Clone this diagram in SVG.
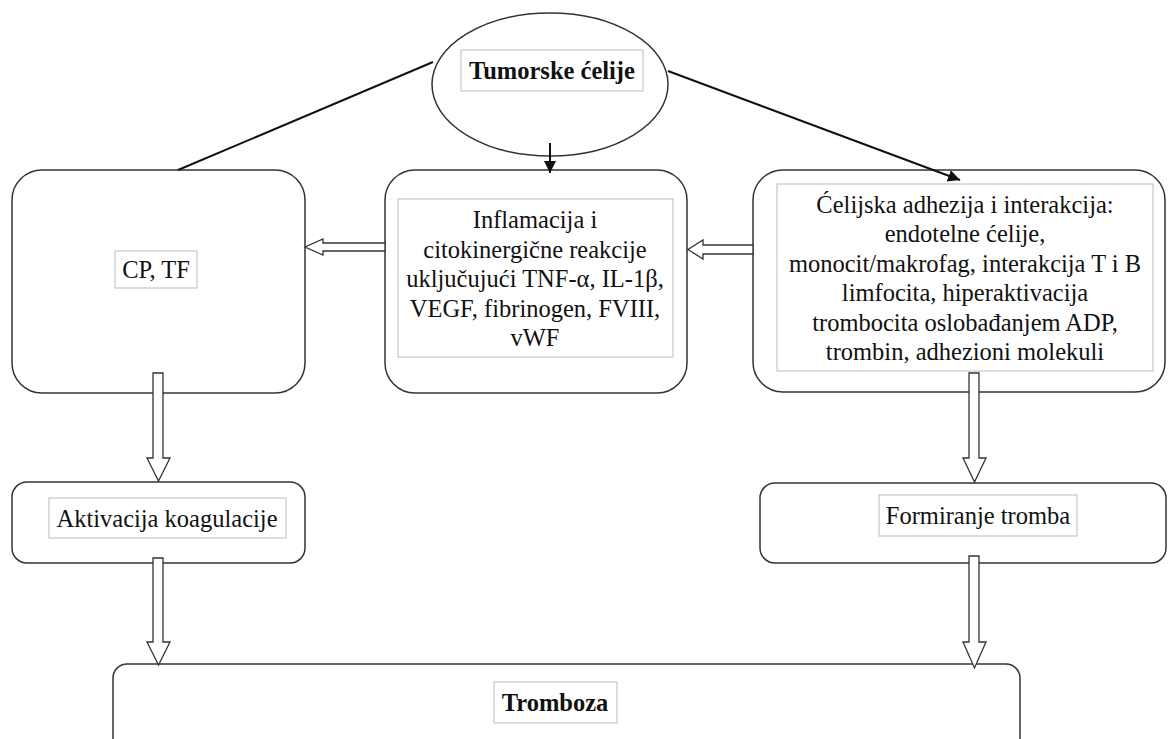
<svg xmlns="http://www.w3.org/2000/svg" width="1168" height="739" viewBox="0 0 1168 739">
<defs>
<style>
.box{fill:#fff;stroke:#333;stroke-width:1.5}
.tb{fill:#fff;stroke:#bbb;stroke-width:1}
.t{font-family:"Liberation Serif","Times New Roman",serif;font-size:24.5px;fill:#111;text-anchor:middle}
.b{font-weight:bold}
.ln{fill:none;stroke:#111;stroke-width:2}
.ha{fill:#fff;stroke:#333;stroke-width:1.3;stroke-linejoin:miter}
</style>
<marker id="ah" viewBox="0 0 10 10" refX="10" refY="5" markerWidth="6" markerHeight="6" markerUnits="strokeWidth" orient="auto">
<path d="M0,0 L10,5 L0,10 z" fill="#111"/>
</marker>
</defs>
<rect width="1168" height="739" fill="#fff"/>

<g id="tumor">
<ellipse class="box" cx="550" cy="84.5" rx="118" ry="71.5"/>
<rect class="tb" x="461" y="50" width="182" height="41"/>
<text class="t b" x="552" y="79">Tumorske ćelije</text>
</g>

<g id="cp-tf">
<rect class="box" x="12" y="170" width="293" height="223" rx="30"/>
<rect class="tb" x="115" y="251" width="82" height="37"/>
<text class="t" x="156" y="278">CP, TF</text>
</g>

<g id="inflamacija">
<rect class="box" x="385" y="170" width="302" height="223" rx="30"/>
<rect class="tb" x="398" y="199" width="275" height="158"/>
<text class="t" x="535" y="228">Inflamacija i</text>
<text class="t" x="535" y="257.5">citokinergične reakcije</text>
<text class="t" x="535" y="287">uključujući TNF-α, IL-1β,</text>
<text class="t" x="535" y="316.5">VEGF, fibrinogen, FVIII,</text>
<text class="t" x="535" y="346">vWF</text>
</g>

<g id="adhezija">
<rect class="box" x="753" y="170" width="412" height="222" rx="30"/>
<rect class="tb" x="777" y="184" width="376" height="187"/>
<text class="t" x="965" y="213">Ćelijska adhezija i interakcija:</text>
<text class="t" x="965" y="242.4">endotelne ćelije,</text>
<text class="t" x="965" y="271.8">monocit/makrofag, interakcija T i B</text>
<text class="t" x="965" y="301.2">limfocita, hiperaktivacija</text>
<text class="t" x="965" y="330.6">trombocita oslobađanjem ADP,</text>
<text class="t" x="965" y="360">trombin, adhezioni molekuli</text>
</g>

<g id="aktivacija">
<rect class="box" x="12" y="482" width="293" height="81" rx="15"/>
<rect class="tb" x="49" y="498" width="237" height="40"/>
<text class="t" x="167" y="527">Aktivacija koagulacije</text>
</g>

<g id="formiranje">
<rect class="box" x="760" y="483" width="406" height="80" rx="15"/>
<rect class="tb" x="879" y="495" width="198" height="41"/>
<text class="t" x="978" y="524">Formiranje tromba</text>
</g>

<g id="tromboza">
<rect class="box" x="113" y="664" width="907" height="100" rx="14"/>
<rect class="tb" x="494" y="682" width="123" height="41"/>
<text class="t b" x="555" y="711">Tromboza</text>
</g>

<g id="connectors">
<line class="ln" x1="433" y1="62" x2="178" y2="170"/>
<line class="ln" x1="668" y1="71" x2="960" y2="180" marker-end="url(#ah)"/>
<line class="ln" x1="550" y1="143" x2="550" y2="173" marker-end="url(#ah)"/>
<polygon class="ha" points="385,243 323,243 323,239 305,247 323,255 323,251 385,251"/>
<polygon class="ha" points="753,245 703,245 703,240 688,249.5 703,259 703,254 753,254"/>
<polygon class="ha" points="153,373 163,373 163,458 170,458 158.5,481 147,458 153,458"/>
<polygon class="ha" points="153,558 163,558 163,642 170,642 158.5,665 147,642 153,642"/>
<polygon class="ha" points="969,373 979,373 979,458 986,458 974.5,482 963,458 969,458"/>
<polygon class="ha" points="969,556 979,556 979,642 986,642 974.5,668 963,642 969,642"/>
</g>
</svg>
